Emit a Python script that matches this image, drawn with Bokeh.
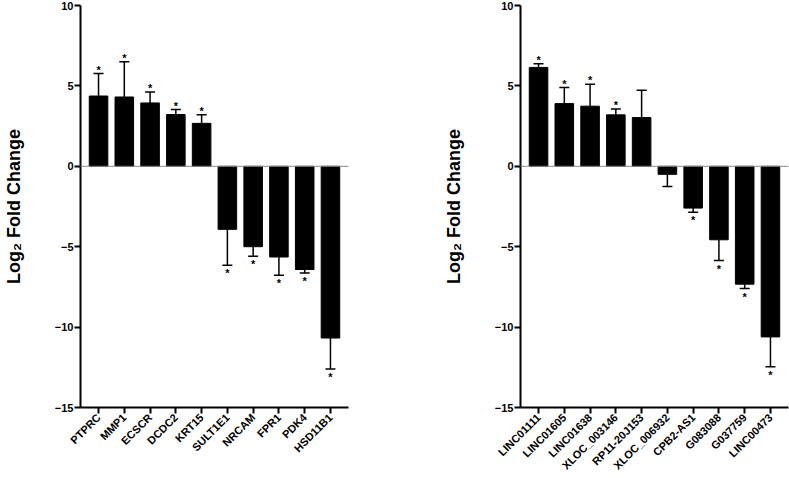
import math
from bokeh.plotting import figure
from bokeh.layouts import row
from bokeh.models import Range1d, FixedTicker, Span
from bokeh.core.properties import value
from bokeh.embed import file_html
from bokeh.resources import INLINE

# ---- data ----
genes_left = ["PTPRC", "MMP1", "ECSCR", "DCDC2", "KRT15",
              "SULT1E1", "NRCAM", "FPR1", "PDK4", "HSD11B1"]
fc_left = [4.37, 4.31, 3.94, 3.22, 2.67, -3.92, -5.0, -5.64, -6.42, -10.68]
err_left = [5.77, 6.5, 4.62, 3.53, 3.2, -6.15, -5.6, -6.77, -6.64, -12.6]
sig_left = [True] * 10

genes_right = ["LINC01111", "LINC01605", "LINC01638", "XLOC_003146", "RP11-20J153",
               "XLOC_006932", "CPB2-AS1", "G083088", "G037759", "LINC00473"]
fc_right = [6.15, 3.9, 3.74, 3.2, 3.03, -0.5, -2.6, -4.57, -7.33, -10.61]
err_right = [6.37, 4.9, 5.11, 3.57, 4.73, -1.25, -2.85, -5.86, -7.6, -12.46]
sig_right = [True, True, True, True, False, False, True, True, True, True]

y_ticks = [-15, -10, -5, 0, 5, 10]
y_label = "Log\u2082 Fold Change"

FONT = "Liberation Sans"


def make_panel(genes, fc, err, sig, width, left_border, right_border):
    n = len(genes)
    p = figure(width=width, height=478, output_backend="svg", toolbar_location=None,
               x_range=Range1d(-0.7, n - 0.3), y_range=Range1d(y_ticks[0], y_ticks[-1]),
               min_border_left=left_border, min_border_right=right_border,
               min_border_top=5, min_border_bottom=62)
    p.outline_line_color = None
    p.grid.visible = False
    p.background_fill_color = "white"
    p.border_fill_color = "white"

    xs = list(range(n))
    p.add_layout(Span(location=0, dimension="width", line_color="#8a8a8a", line_width=1))
    p.vbar(x=xs, top=fc, bottom=0, width=0.72, fill_color="black", line_color="black")
    p.segment(x0=xs, y0=fc, x1=xs, y1=err, line_color="black", line_width=1.5)
    p.dash(x=xs, y=err, size=10, line_color="black", line_width=1.5)

    up_x = [i for i in xs if sig[i] and fc[i] > 0]
    up_y = [err[i] for i in up_x]
    dn_x = [i for i in xs if sig[i] and fc[i] < 0]
    dn_y = [err[i] for i in dn_x]
    p.text(x=up_x, y=up_y, text=["*"] * len(up_x), text_align="center",
           text_baseline="middle", y_offset=-4, text_font=value(FONT),
           text_font_size="11px", text_font_style="bold", text_color="black")
    p.text(x=dn_x, y=dn_y, text=["*"] * len(dn_x), text_align="center",
           text_baseline="middle", y_offset=8, text_font=value(FONT),
           text_font_size="11px", text_font_style="bold", text_color="black")

    for ax in (p.xaxis[0], p.yaxis[0]):
        ax.axis_line_width = 2
        ax.axis_line_color = "black"
        ax.major_tick_line_width = 2
        ax.major_tick_line_color = "black"
        ax.major_tick_out = 6
        ax.major_tick_in = 0
        ax.minor_tick_line_color = None
        ax.major_label_text_font = FONT
        ax.major_label_text_font_style = "bold"
        ax.major_label_text_font_size = "11px"
        ax.major_label_text_color = "black"

    p.yaxis.ticker = FixedTicker(ticks=y_ticks)
    p.yaxis.major_label_standoff = 1
    p.yaxis.axis_label = y_label
    p.yaxis.axis_label_text_font = FONT
    p.yaxis.axis_label_text_font_style = "bold"
    p.yaxis.axis_label_text_font_size = "18px"
    p.yaxis.axis_label_text_color = "black"
    p.yaxis.axis_label_standoff = 28

    p.xaxis.ticker = FixedTicker(ticks=xs)
    p.xaxis.major_label_overrides = {i: g for i, g in enumerate(genes)}
    p.xaxis.major_label_orientation = math.pi / 4
    p.xaxis.major_label_standoff = 2
    p.xaxis.major_label_text_line_height = 1.0
    return p


p1 = make_panel(genes_left, fc_left, err_left, sig_left, 440, 77, 92)
p2 = make_panel(genes_right, fc_right, err_right, sig_right, 349, 80, 1)

layout = row(p1, p2)
open("out.html", "w").write(file_html(layout, INLINE))
